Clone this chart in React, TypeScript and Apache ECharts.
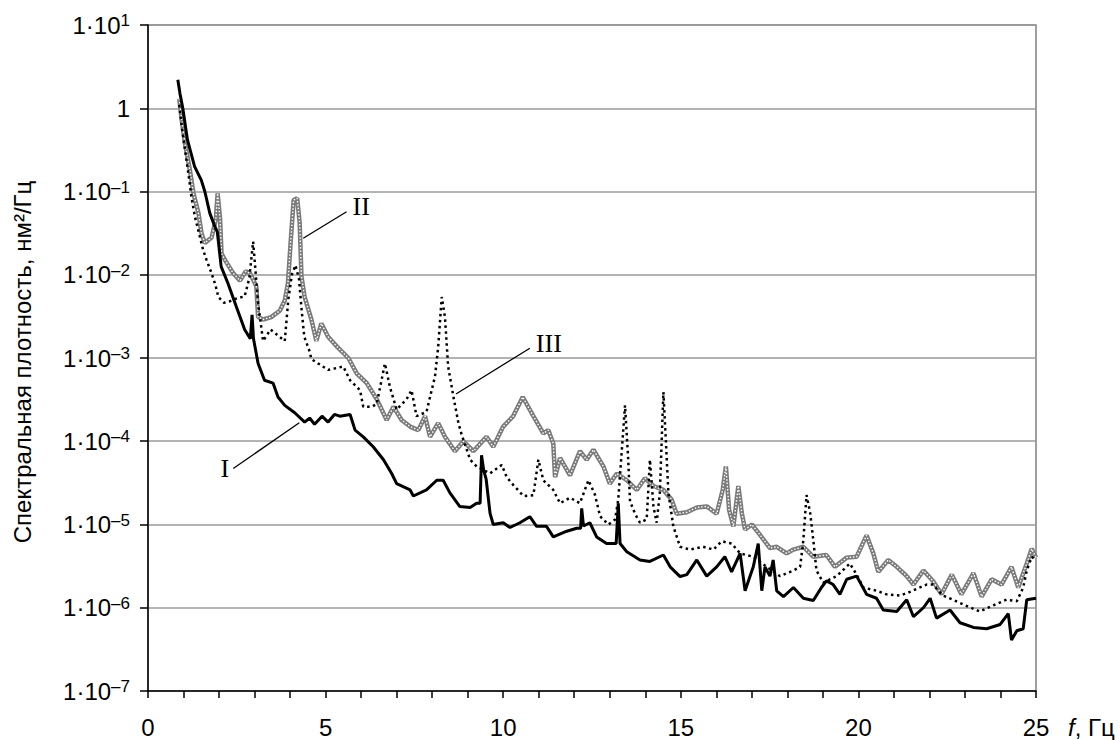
import React, { useEffect, useRef } from "react";
import * as echarts from "echarts";

// Frequency (Hz) and spectral density (nm^2/Hz)
const freqI = [0.84, 0.9, 0.98, 1.11, 1.31, 1.5, 1.6, 1.74, 1.88, 1.95, 2.06, 2.25, 2.49, 2.72, 2.88, 2.93, 2.97, 3.1, 3.28, 3.52, 3.66, 3.85, 4.13, 4.41, 4.55, 4.69, 4.9, 5.07, 5.25, 5.4, 5.69, 5.83, 6.06, 6.34, 6.63, 6.86, 7.0, 7.38, 7.47, 7.84, 8.13, 8.31, 8.5, 8.78, 9.07, 9.25, 9.35, 9.39, 9.45, 9.52, 9.63, 9.72, 10.0, 10.19, 10.47, 10.75, 10.94, 11.22, 11.41, 11.79, 12.07, 12.18, 12.21, 12.26, 12.44, 12.63, 12.91, 13.18, 13.24, 13.29, 13.48, 13.85, 14.13, 14.51, 14.7, 14.98, 15.17, 15.45, 15.73, 16.01, 16.24, 16.43, 16.67, 16.81, 17.04, 17.18, 17.28, 17.37, 17.51, 17.6, 17.7, 17.89, 18.17, 18.45, 18.73, 18.96, 19.1, 19.29, 19.48, 19.67, 19.95, 20.23, 20.51, 20.7, 21.08, 21.36, 21.55, 21.83, 22.02, 22.2, 22.58, 22.86, 23.24, 23.61, 23.99, 24.22, 24.31, 24.46, 24.64, 24.74, 25.0];
const psdI = [2.2, 1.5, 1.0, 0.42, 0.2, 0.137, 0.1, 0.055, 0.038, 0.033, 0.0125, 0.0079, 0.0041, 0.0022, 0.0017, 0.0033, 0.0017, 8.6e-4, 5.4e-4, 5.0e-4, 3.4e-4, 2.7e-4, 2.2e-4, 1.7e-4, 1.9e-4, 1.6e-4, 2.0e-4, 1.7e-4, 2.1e-4, 2.0e-4, 2.1e-4, 1.36e-4, 1.13e-4, 8.6e-5, 6.0e-5, 4.1e-5, 3.1e-5, 2.6e-5, 2.2e-5, 2.6e-5, 3.4e-5, 3.4e-5, 2.4e-5, 1.64e-5, 1.6e-5, 1.8e-5, 1.8e-5, 6.8e-5, 4.5e-5, 3.5e-5, 1.36e-5, 1.0e-5, 1.05e-5, 9.2e-6, 1.05e-5, 1.24e-5, 9.5e-6, 9.5e-6, 7.1e-6, 8.3e-6, 9.0e-6, 9.0e-6, 1.56e-5, 9.6e-6, 1.05e-5, 7.1e-6, 5.9e-6, 5.9e-6, 1.8e-5, 5.9e-6, 4.7e-6, 3.75e-6, 3.6e-6, 4.3e-6, 3.1e-6, 2.37e-6, 2.5e-6, 3.75e-6, 2.4e-6, 3.1e-6, 4.1e-6, 2.7e-6, 4.5e-6, 1.6e-6, 3.1e-6, 5.9e-6, 1.6e-6, 3.1e-6, 2.4e-6, 3.75e-6, 1.6e-6, 1.36e-6, 1.75e-6, 1.3e-6, 1.22e-6, 1.75e-6, 2.1e-6, 1.9e-6, 1.45e-6, 2.2e-6, 2.4e-6, 1.45e-6, 1.3e-6, 9.4e-7, 9.0e-7, 1.25e-6, 7.8e-7, 1.0e-6, 1.3e-6, 7.5e-7, 9.4e-7, 6.6e-7, 5.8e-7, 5.6e-7, 6.3e-7, 8.5e-7, 4.1e-7, 5.3e-7, 5.6e-7, 1.25e-6, 1.3e-6];

const freqII = [0.88, 0.95, 1.04, 1.18, 1.28, 1.42, 1.51, 1.6, 1.79, 1.91, 1.96, 2.03, 2.07, 2.17, 2.4, 2.59, 2.75, 2.87, 3.01, 3.05, 3.1, 3.24, 3.47, 3.71, 3.85, 3.94, 4.02, 4.1, 4.2, 4.27, 4.32, 4.41, 4.6, 4.74, 4.88, 5.07, 5.3, 5.64, 5.88, 6.16, 6.44, 6.72, 6.91, 7.14, 7.38, 7.61, 7.8, 7.94, 8.17, 8.36, 8.64, 8.88, 9.16, 9.53, 9.72, 10.0, 10.28, 10.55, 10.85, 11.13, 11.27, 11.41, 11.46, 11.6, 11.88, 12.16, 12.35, 12.54, 12.82, 13.0, 13.2, 13.48, 13.76, 13.99, 14.23, 14.51, 14.74, 14.88, 15.17, 15.45, 15.73, 16.01, 16.18, 16.27, 16.36, 16.48, 16.62, 16.72, 16.81, 17.0, 17.23, 17.51, 17.7, 17.98, 18.17, 18.45, 18.73, 19.1, 19.34, 19.67, 19.95, 20.23, 20.42, 20.56, 20.84, 21.08, 21.36, 21.55, 21.83, 22.1, 22.34, 22.63, 22.9, 23.24, 23.47, 23.75, 24.03, 24.31, 24.5, 24.74, 24.88, 25.0];
const psdII = [1.3, 0.72, 0.38, 0.18, 0.095, 0.055, 0.031, 0.024, 0.028, 0.046, 0.095, 0.046, 0.018, 0.015, 0.0104, 0.0085, 0.011, 0.0104, 0.0079, 0.0072, 0.0031, 0.0029, 0.0031, 0.0037, 0.0049, 0.0079, 0.026, 0.079, 0.083, 0.042, 0.0096, 0.0054, 0.0029, 0.0016, 0.0026, 0.0018, 0.0014, 1.0e-3, 6.5e-4, 5.0e-4, 3.2e-4, 1.8e-4, 2.6e-4, 1.8e-4, 1.5e-4, 1.36e-4, 2.0e-4, 1.13e-4, 1.65e-4, 1.13e-4, 7.6e-5, 1.0e-4, 7.6e-5, 1.13e-4, 8.6e-5, 1.5e-4, 2.0e-4, 3.4e-4, 2.0e-4, 1.24e-4, 1.36e-4, 9.4e-5, 3.7e-5, 6.3e-5, 3.9e-5, 7.6e-5, 6.0e-5, 7.9e-5, 5.0e-5, 3.1e-5, 4.1e-5, 3.4e-5, 2.6e-5, 3.6e-5, 2.9e-5, 2.6e-5, 2.0e-5, 1.35e-5, 1.4e-5, 1.6e-5, 1.65e-5, 1.35e-5, 2.6e-5, 5.0e-5, 1.5e-5, 9.5e-6, 2.9e-5, 1.35e-5, 8.7e-6, 1.0e-5, 7.5e-6, 5.2e-6, 5.4e-6, 4.5e-6, 5.0e-6, 5.4e-6, 4.1e-6, 4.3e-6, 3.1e-6, 4.0e-6, 4.1e-6, 7.4e-6, 4.5e-6, 2.7e-6, 3.75e-6, 3.1e-6, 2.4e-6, 1.9e-6, 2.8e-6, 2.1e-6, 1.45e-6, 2.5e-6, 1.45e-6, 2.6e-6, 1.36e-6, 2.2e-6, 1.9e-6, 3.1e-6, 1.75e-6, 3.4e-6, 5.1e-6, 4.0e-6];

const freqIII = [0.88, 0.95, 1.05, 1.15, 1.22, 1.32, 1.41, 1.55, 1.65, 1.79, 1.9, 1.98, 2.14, 2.3, 2.5, 2.72, 2.85, 2.96, 3.02, 3.1, 3.24, 3.45, 3.7, 3.85, 3.95, 4.05, 4.15, 4.25, 4.32, 4.4, 4.55, 4.6, 5.07, 5.5, 5.69, 5.97, 6.06, 6.3, 6.44, 6.67, 6.81, 7.0, 7.28, 7.42, 7.56, 7.84, 7.94, 8.08, 8.17, 8.27, 8.36, 8.45, 8.6, 8.74, 8.83, 9.07, 9.25, 9.63, 9.96, 10.1, 10.28, 10.57, 10.85, 10.99, 11.13, 11.41, 11.6, 11.88, 12.16, 12.4, 12.58, 12.73, 12.96, 13.15, 13.24, 13.43, 13.52, 13.57, 13.71, 13.85, 14.04, 14.13, 14.23, 14.32, 14.41, 14.51, 14.58, 14.65, 14.79, 14.98, 15.26, 15.63, 15.92, 16.15, 16.43, 16.67, 17.04, 17.42, 17.79, 18.17, 18.36, 18.45, 18.54, 18.64, 18.73, 18.82, 19.01, 19.39, 19.76, 19.95, 20.14, 20.51, 20.79, 21.17, 21.45, 21.92, 22.1, 22.38, 22.66, 23.05, 23.42, 23.8, 24.17, 24.46, 24.64, 24.74, 24.88, 24.97];
const psdIII = [1.1, 0.6, 0.3, 0.15, 0.087, 0.05, 0.035, 0.02, 0.015, 0.0104, 0.0075, 0.0054, 0.0046, 0.0048, 0.0052, 0.0055, 0.009, 0.025, 0.012, 0.0045, 0.0016, 0.0022, 0.0018, 0.0016, 0.005, 0.01, 0.013, 0.009, 0.004, 0.0018, 0.0012, 9.7e-4, 7.2e-4, 7.9e-4, 5.4e-4, 4.1e-4, 2.6e-4, 2.6e-4, 2.8e-4, 8.6e-4, 4.5e-4, 2.4e-4, 3.2e-4, 4.1e-4, 2.0e-4, 2.25e-4, 3.4e-4, 6.0e-4, 1.37e-3, 5.4e-3, 3.1e-3, 7.9e-4, 3.4e-4, 1.65e-4, 1.2e-4, 6.0e-5, 5.0e-5, 4.1e-5, 5.2e-5, 3.7e-5, 3.0e-5, 2.2e-5, 2.25e-5, 6.0e-5, 3.4e-5, 2.6e-5, 1.8e-5, 2.1e-5, 1.8e-5, 3.4e-5, 2.3e-5, 1.25e-5, 1.0e-5, 1.15e-5, 2.0e-5, 2.7e-4, 6.0e-5, 1.9e-5, 1.35e-5, 1.05e-5, 1.15e-5, 6.0e-5, 1.65e-5, 1.05e-5, 2.4e-5, 3.9e-4, 1.0e-4, 2.4e-5, 9.5e-6, 5.4e-6, 5.0e-6, 5.4e-6, 5.0e-6, 6.3e-6, 5.9e-6, 4.5e-6, 4.1e-6, 3.1e-6, 2.4e-6, 2.8e-6, 3.1e-6, 6.5e-6, 2.26e-5, 1.4e-5, 6.5e-6, 2.8e-6, 2.0e-6, 2.4e-6, 3.4e-6, 2.5e-6, 1.75e-6, 1.6e-6, 1.45e-6, 1.4e-6, 1.55e-6, 1.9e-6, 1.9e-6, 1.4e-6, 1.25e-6, 1.05e-6, 9.0e-7, 1.07e-6, 1.25e-6, 1.2e-6, 1.75e-6, 2.8e-6, 4.1e-6, 3.8e-6];

// Curve labels with leader lines (data coordinates: [Hz, nm^2/Hz])
const curveLabels = [
  { text: "I", from: [2.4, 4.7e-5], to: [4.26, 1.67e-4], at: "from" },
  { text: "II", from: [4.37, 0.0274], to: [5.59, 0.0572], at: "to" },
  { text: "III", from: [8.67, 3.7e-4], to: [10.75, 1.31e-3], at: "to" },
];

const zip = (xs: number[], ys: number[]) => xs.map((x, i) => [x, ys[i]]);

const SANS = '"Liberation Sans", Arial, sans-serif';
const SERIF = '"Liberation Serif", "Times New Roman", serif';

export default function App() {
  const ref = useRef<HTMLDivElement>(null);

  useEffect(() => {
    if (!ref.current) return;
    const chart = echarts.init(ref.current, undefined, { renderer: "svg" });
    const option: any = {
      animation: false,
      backgroundColor: "#fff",
      grid: {
        left: 148,
        right: 84,
        top: 25,
        bottom: 49,
        show: true,
        borderColor: "#808080",
        borderWidth: 1.5,
        backgroundColor: "transparent",
      },
      xAxis: {
        type: "value",
        min: 0,
        max: 25,
        interval: 1,
        axisLine: { lineStyle: { color: "#000", width: 1.5 } },
        axisTick: { show: true, length: 7, lineStyle: { color: "#000", width: 1.5 } },
        splitLine: { show: false },
        axisLabel: {
          margin: 24,
          color: "#000",
          fontSize: 24,
          fontFamily: SANS,
          showMaxLabel: true,
          formatter: (v: number) => (v % 5 === 0 ? String(v) : ""),
        },
      },
      yAxis: {
        type: "log",
        logBase: 10,
        min: 1e-7,
        max: 10,
        splitNumber: 8,
        name: "Спектральная плотность, нм²/Гц",
        nameLocation: "middle",
        nameGap: 114,
        nameTextStyle: { color: "#000", fontSize: 24, fontFamily: SANS, padding: [0, 8, 0, 0] },
        axisLine: { show: true, lineStyle: { color: "#000", width: 1.5 } },
        axisTick: { show: true, length: 8, lineStyle: { color: "#000", width: 1.5 } },
        splitLine: { show: true, lineStyle: { color: "#9a9a9a", width: 1.5 } },
        minorTick: { show: false },
        axisLabel: {
          margin: 18,
          color: "#000",
          formatter: (v: number) => {
            const e = Math.round(Math.log10(v));
            if (e === 0) return "{m|1}";
            const s = e < 0 ? "–" + -e : String(e);
            return "{m|1·10}{s|" + s + "}";
          },
          rich: {
            m: { fontSize: 24, lineHeight: 26, fontFamily: SANS, color: "#000" },
            s: { fontSize: 17, lineHeight: 15, verticalAlign: "top", fontFamily: SANS, color: "#000" },
          },
        },
      },
      series: [
        {
          name: "II",
          type: "line",
          data: zip(freqII, psdII),
          showSymbol: false,
          lineStyle: { color: "#7a7a7a", width: 4.5 },
          z: 2,
        },
        {
          name: "II-texture",
          type: "line",
          data: zip(freqII, psdII),
          showSymbol: false,
          silent: true,
          lineStyle: { color: "#ffffff", width: 1.4, type: [1.5, 1.8] },
          z: 3,
        },
        {
          name: "III",
          type: "line",
          data: zip(freqIII, psdIII),
          showSymbol: false,
          lineStyle: { color: "#000", width: 2.5, type: [2.5, 3.5] },
          z: 4,
        },
        {
          name: "I",
          type: "line",
          data: zip(freqI, psdI),
          showSymbol: false,
          lineStyle: { color: "#000", width: 3 },
          z: 5,
        },
      ],
    };
    chart.setOption(option);

    const graphics: any[] = [];
    curveLabels.forEach((c) => {
      const p1 = chart.convertToPixel({ xAxisIndex: 0, yAxisIndex: 0 }, c.from as any) as number[];
      const p2 = chart.convertToPixel({ xAxisIndex: 0, yAxisIndex: 0 }, c.to as any) as number[];
      graphics.push({
        type: "line",
        shape: { x1: p1[0], y1: p1[1], x2: p2[0], y2: p2[1] },
        style: { stroke: "#000", lineWidth: 1.3 },
        z: 10,
      });
      if (c.at === "from") {
        graphics.push({
          type: "text",
          x: p1[0] - 4,
          y: p1[1],
          style: { text: c.text, fill: "#000", font: "26px " + SERIF, align: "right", verticalAlign: "middle" },
          z: 10,
        });
      } else {
        graphics.push({
          type: "text",
          x: p2[0] + 6,
          y: p2[1] - 5,
          style: { text: c.text, fill: "#000", font: "26px " + SERIF, align: "left", verticalAlign: "middle" },
          z: 10,
        });
      }
    });
    const pEnd = chart.convertToPixel({ xAxisIndex: 0, yAxisIndex: 0 }, [25, 1e-7]) as number[];
    graphics.push({
      type: "text",
      x: pEnd[0] + 32,
      y: pEnd[1] + 24,
      style: {
        text: "{i|f}{n|, Гц}",
        rich: {
          i: { fontSize: 24, fontStyle: "italic", fontFamily: SANS, fill: "#000" },
          n: { fontSize: 24, fontFamily: SANS, fill: "#000" },
        },
        verticalAlign: "top",
        align: "left",
      },
    });
    chart.setOption({ graphic: graphics });

    return () => chart.dispose();
  }, []);

  return (
    <div
      ref={ref}
      style={{ position: "absolute", left: 0, top: 0, width: 1120, height: 740, background: "#fff" }}
    />
  );
}
